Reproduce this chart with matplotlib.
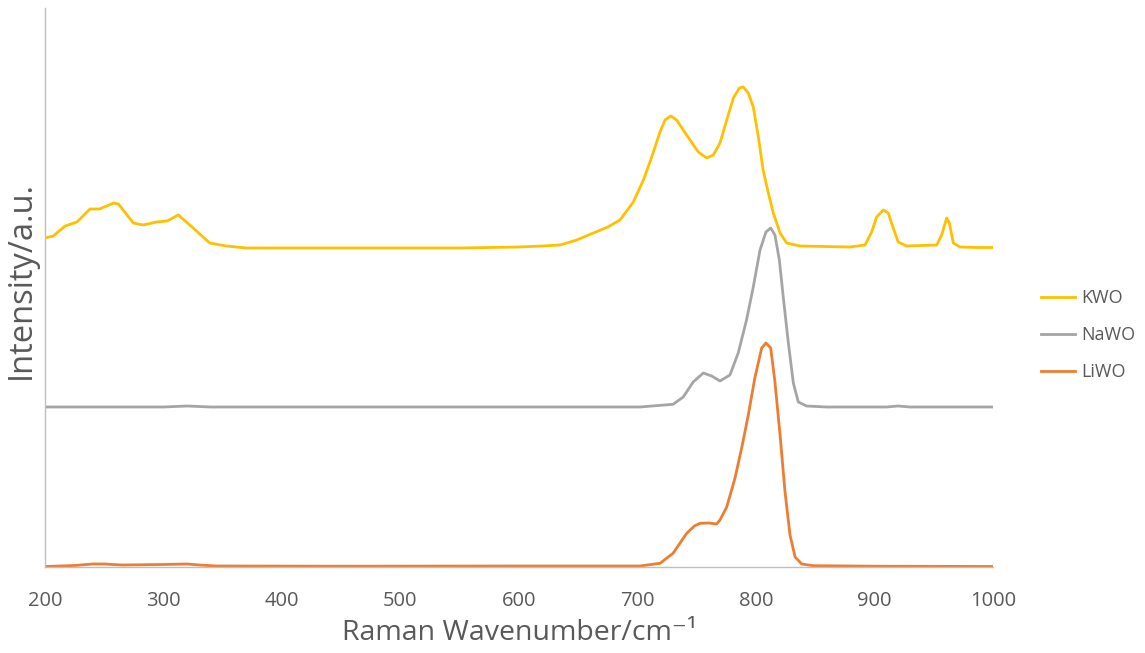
import matplotlib.pyplot as plt

plt.rcParams['font.family'] = ['Open Sans', 'DejaVu Sans']

# Raman spectra, offset for display (arbitrary units)
kwo_x = [200, 207, 217, 227, 238, 246, 258, 262, 274.5, 283, 294, 303, 312.5, 325, 339, 353, 370,
         450, 550, 600, 620, 634.6, 648.7, 662.7, 675, 685.2, 696.5, 705, 712, 719, 723.2, 728,
         733, 738.6, 744.3, 751.3, 758.4, 764, 769.6, 775.3, 780.9, 786, 789.3, 793.5, 797.7,
         802, 806, 810.4, 814.6, 820.3, 825.9, 837, 879.3, 892, 897.6, 901.8, 907.4, 911.6,
         915.8, 920, 927.1, 952.5, 956.7, 960.9, 963.2, 966.5, 972.2, 986, 1000]
kwo_y = [329, 331, 341, 345, 358, 358, 364, 363, 344, 342, 345, 346, 352, 339, 324, 321, 319,
         319, 319, 320, 321, 322, 327, 334, 340, 347, 365, 387, 410, 435, 447, 451,
         447, 437, 427, 415, 409, 412, 424, 447, 469, 479, 480, 474, 460,
         430, 397, 374, 354, 334, 324, 321, 320, 322, 335, 350, 357, 354,
         339, 325, 321, 322, 332, 349, 344, 324, 320, 319.5, 319.5]

nawo_x = [200, 300, 320, 340, 500, 702, 730, 738.6, 747, 755.5, 762.6, 769.6, 778, 785, 792,
          797.7, 803.4, 808.4, 812.4, 816, 819.7, 823, 827.3, 831.5, 835.7, 842.7, 859.6,
          910, 920, 930, 1000]
nawo_y = [160, 160, 161, 160, 160, 160, 162.7, 170, 185, 194, 191, 186, 192, 214, 247,
          280, 317, 335, 339, 332, 307, 270, 224, 184, 165, 161, 160,
          160, 161, 160, 160]

liwo_x = [200, 225, 240, 250, 265, 300, 320, 330, 345, 450, 600, 702, 719, 730, 741.5, 748,
          752.7, 760, 766.8, 769.6, 775.3, 782.3, 787.9, 793.5, 799, 804.8, 808.4, 812.4, 816,
          820.3, 824.5, 828.7, 833, 838.6, 848.4, 900, 1000]
liwo_y = [0.5, 1.5, 3, 3, 2, 2.5, 3, 2, 1, 0.8, 1, 1, 3.7, 13.7, 33.7, 41,
          43.7, 44, 43, 47, 60, 89, 119, 152, 189, 219, 224, 219, 185,
          132, 75, 32, 10, 3, 1.3, 0.8, 0.5]

series = [
    ('KWO', kwo_x, kwo_y, '#FFC000'),
    ('NaWO', nawo_x, nawo_y, '#A5A5A5'),
    ('LiWO', liwo_x, liwo_y, '#ED7D31'),
]

fig = plt.figure(figsize=(11.45, 6.53), dpi=100)
ax = fig.add_axes([45 / 1145, 86 / 653, 948 / 1145, 559 / 653])

for name, x, y, color in series:
    ax.plot(x, y, color=color, lw=2.0, label=name, solid_joinstyle='round')

ax.set_xlim(200, 1000)
ax.set_ylim(0, 559)
ax.set_xticks(range(200, 1001, 100))
ax.set_yticks([])
ax.tick_params(axis='x', length=0, pad=17, labelsize=14.5, labelcolor='#595959')

for side in ['top', 'right']:
    ax.spines[side].set_visible(False)
for side in ['left', 'bottom']:
    ax.spines[side].set_color('#BFBFBF')
    ax.spines[side].set_linewidth(1.0)

ax.set_xlabel('Raman Wavenumber/cm\u207b\u00b9', fontsize=20.5, color='#595959', labelpad=6)
ax.set_ylabel('Intensity/a.u.', fontsize=23.5, color='#595959')
ax.yaxis.set_label_coords(-0.008, 0.513)

leg = ax.legend(loc='center left', bbox_to_anchor=(1.033, 0.415), frameon=False,
                fontsize=13, handlelength=1.9, labelspacing=1.05, handletextpad=0.35)
for t in leg.get_texts():
    t.set_color('#595959')

fig.savefig('out.png', dpi=100)
